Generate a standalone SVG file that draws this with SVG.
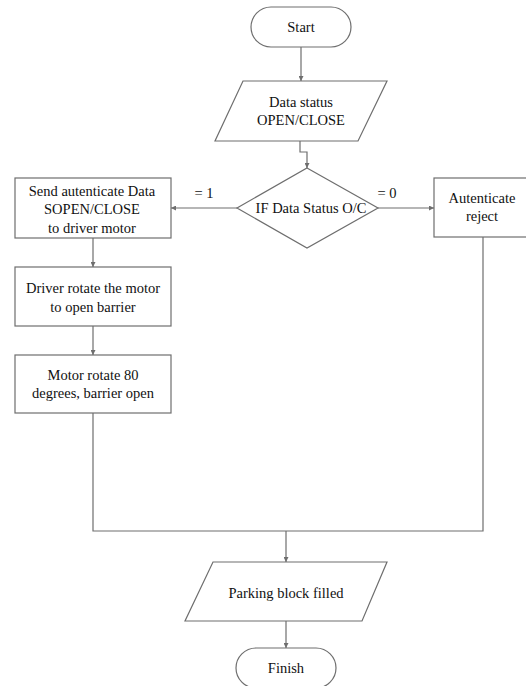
<svg xmlns="http://www.w3.org/2000/svg" width="526" height="686" viewBox="0 0 526 686">
<style>
.s{fill:#fff;stroke:#6e6e6e;stroke-width:1.2}
.c{fill:none;stroke:#6e6e6e;stroke-width:1.2}
text{font-family:'Liberation Serif','DejaVu Serif',serif;font-size:14.5px;fill:#111;text-anchor:middle}
</style>
<defs>
<marker id="a" viewBox="0 0 8 8" refX="8" refY="4" markerWidth="5" markerHeight="5" orient="auto" markerUnits="userSpaceOnUse">
<path d="M0,0 L8,4 L0,8 Z" fill="#6e6e6e"/>
</marker>
</defs>
<rect width="526" height="686" fill="#fff"/>
<g id="connectors">
<path class="c" d="M301,47 V81" marker-end="url(#a)"/>
<path class="c" d="M300,141 V152 H307 V168" marker-end="url(#a)"/>
<path class="c" d="M237,208 H171" marker-end="url(#a)"/>
<path class="c" d="M378,208 H434" marker-end="url(#a)"/>
<path class="c" d="M93,238 V267" marker-end="url(#a)"/>
<path class="c" d="M93,326 V355" marker-end="url(#a)"/>
<path class="c" d="M93,413 V531 H483 V237"/>
<path class="c" d="M286,531 V562" marker-end="url(#a)"/>
<path class="c" d="M286,621 V648" marker-end="url(#a)"/>
</g>
<g font-family="Liberation Serif, serif">
<g id="start">
<rect class="s" x="251" y="7" width="100" height="40" rx="20"/>
<text x="301" y="32">Start</text>
</g>
<g id="data-status">
<polygon class="s" points="243,81 387,81 358,141 215,141"/>
<text x="301" y="107">Data status</text>
<text x="301" y="125">OPEN/CLOSE</text>
</g>
<g id="decision">
<polygon class="s" points="307,168 378,208 307,248 237,208"/>
<text x="311" y="213">IF Data Status O/C</text>
</g>
<text x="204" y="198">= 1</text>
<text x="387" y="198">= 0</text>
<g id="send-data">
<rect class="s" x="15" y="178" width="156" height="60"/>
<text x="92" y="196">Send autenticate Data</text>
<text x="92" y="214">SOPEN/CLOSE</text>
<text x="92" y="233">to driver motor</text>
</g>
<g id="reject">
<rect class="s" x="434" y="178" width="98" height="59"/>
<text x="482" y="203">Autenticate</text>
<text x="482" y="221">reject</text>
</g>
<g id="driver">
<rect class="s" x="15" y="267" width="156" height="59"/>
<text x="93" y="293">Driver rotate the motor</text>
<text x="93" y="312">to open barrier</text>
</g>
<g id="motor">
<rect class="s" x="15" y="355" width="156" height="58"/>
<text x="93" y="380">Motor rotate 80</text>
<text x="93" y="398">degrees, barrier open</text>
</g>
<g id="parking">
<polygon class="s" points="213,562 387,562 362,621 185,621"/>
<text x="286" y="598">Parking block filled</text>
</g>
<g id="finish">
<rect class="s" x="236" y="648" width="100" height="40" rx="20"/>
<text x="286" y="673">Finish</text>
</g>
</g>
</svg>
